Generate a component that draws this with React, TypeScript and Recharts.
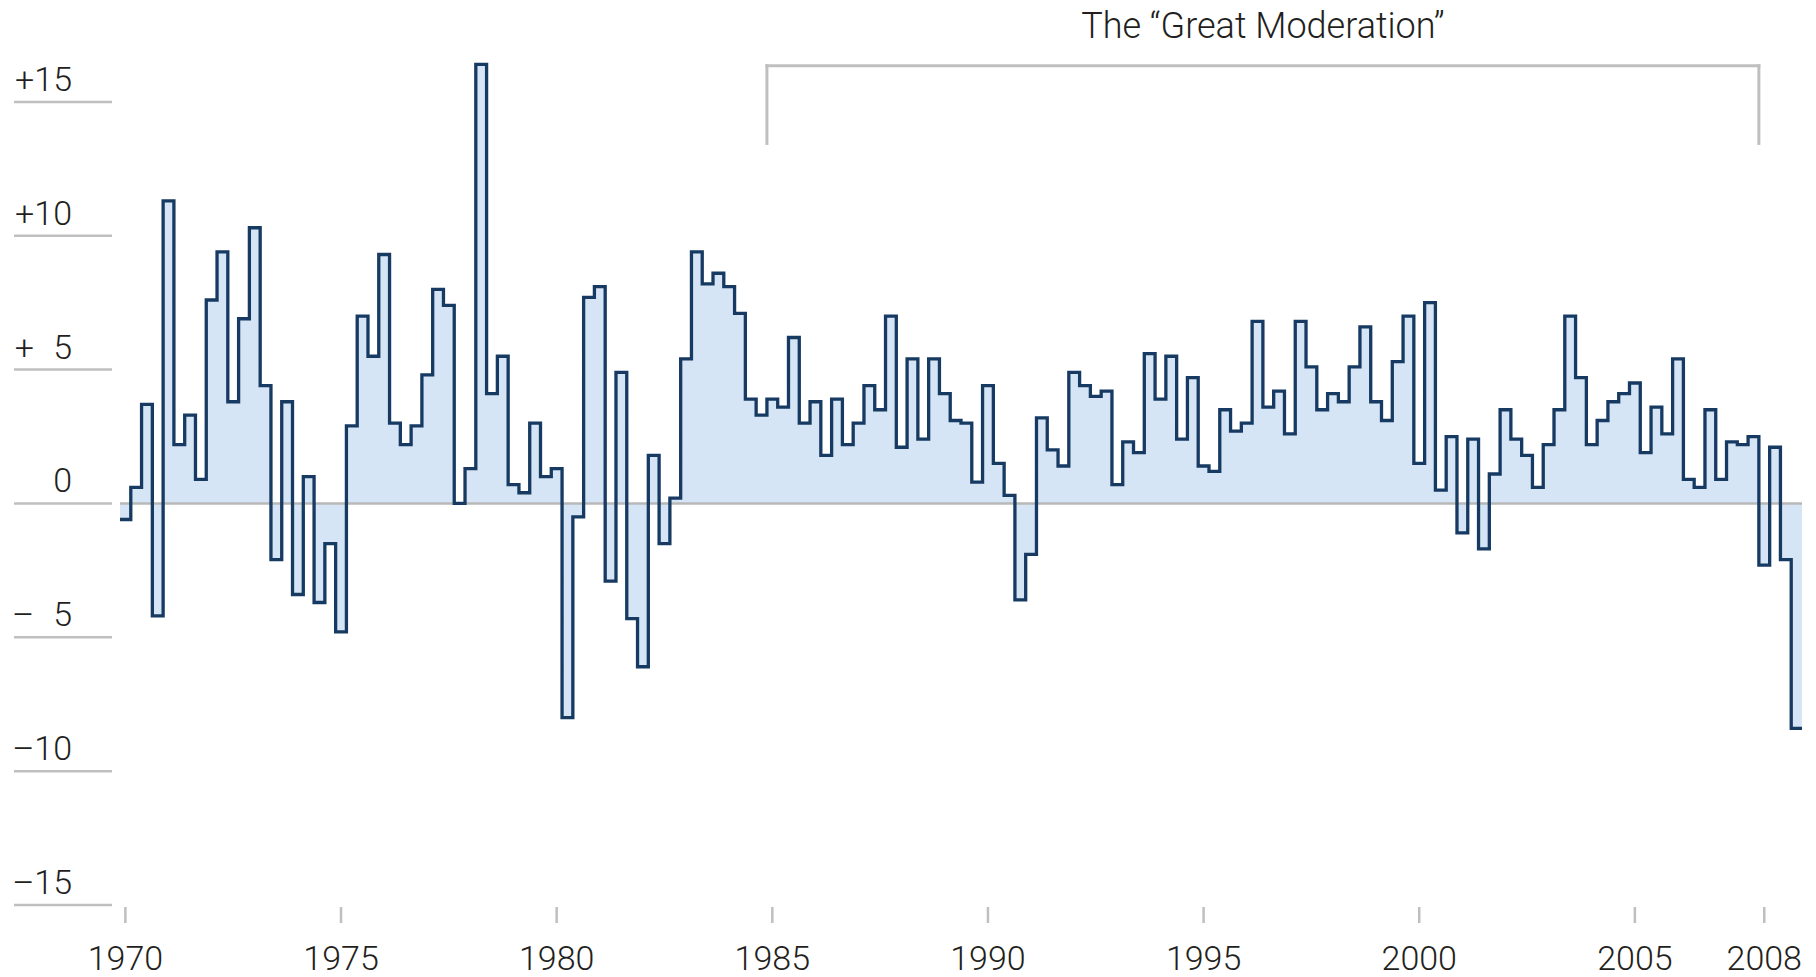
import { ComposedChart, Area, Line, XAxis, YAxis, ReferenceLine } from 'recharts';

// quarterly real GDP growth, annualised %, 1970Q1 .. 2008Q4
const firstYear = 1970;
const growth = [
  -0.6, 0.6, 3.7, -4.2,
  11.3, 2.2, 3.3, 0.9,
  7.6, 9.4, 3.8, 6.9,
  10.3, 4.4, -2.1, 3.8,
  -3.4, 1.0, -3.7, -1.5,
  -4.8, 2.9, 7.0, 5.5,
  9.3, 3.0, 2.2, 2.9,
  4.8, 8.0, 7.4, 0.0,
  1.3, 16.4, 4.1, 5.5,
  0.7, 0.4, 3.0, 1.0,
  1.3, -8.0, -0.5, 7.7,
  8.1, -2.9, 4.9, -4.3,
  -6.1, 1.8, -1.5, 0.2,
  5.4, 9.4, 8.2, 8.6,
  8.1, 7.1, 3.9, 3.3,
  3.9, 3.6, 6.2, 3.0,
  3.8, 1.8, 3.9, 2.2,
  3.0, 4.4, 3.5, 7.0,
  2.1, 5.4, 2.4, 5.4,
  4.1, 3.1, 3.0, 0.8,
  4.4, 1.5, 0.3, -3.6,
  -1.9, 3.2, 2.0, 1.4,
  4.9, 4.4, 4.0, 4.2,
  0.7, 2.3, 1.9, 5.6,
  3.9, 5.5, 2.4, 4.7,
  1.4, 1.2, 3.5, 2.7,
  3.0, 6.8, 3.6, 4.2,
  2.6, 6.8, 5.1, 3.5,
  4.1, 3.8, 5.1, 6.6,
  3.8, 3.1, 5.3, 7.0,
  1.5, 7.5, 0.5, 2.5,
  -1.1, 2.4, -1.7, 1.1,
  3.5, 2.4, 1.8, 0.6,
  2.2, 3.5, 7.0, 4.7,
  2.2, 3.1, 3.8, 4.1,
  4.5, 1.9, 3.6, 2.6,
  5.4, 0.9, 0.6, 3.5,
  0.9, 2.3, 2.2, 2.5,
  -2.3, 2.1, -2.1, -8.4,
];

const yTicks = [-15, -10, -5, 0, 5, 10, 15];
const yTickLabels = ['–15', '–10', '–\u20075', '0', '+\u20075', '+10', '+15'];
const tickYears = [1970, 1975, 1980, 1985, 1990, 1995, 2000, 2005, 2008];
const bracketYears = [1985, 2008];
const title = 'The “Great Moderation”';

const FONT = "Roboto, 'Open Sans', sans-serif";
const TEXT = '#231f20';
const GREY = '#bfbfbf';
const NAVY = '#173a63';
const FILL = '#d5e5f5';

// step data: one extra point so the last quarter gets its full width
const data = growth.map((v, i) => ({ q: i, v }));
data.push({ q: growth.length, v: growth[growth.length - 1] });

const xTicks = tickYears.map(y => (y - firstYear) * 4 + 0.5);
const qOf = (year: number) => (year - firstYear) * 4;
const bracketTop = 16.35;
const bracketBottom = 13.45;

function YTick(props: any) {
  const { y, payload } = props;
  const label = yTickLabels[yTicks.indexOf(payload.value)];
  return (
    <g>
      <line x1={14} x2={112} y1={y} y2={y} stroke={GREY} strokeWidth={2.5} />
      <text x={72} y={y - 11} textAnchor="end" fontSize={34} fontWeight={300} fontFamily={FONT} fill={TEXT}>
        {label}
      </text>
    </g>
  );
}

function XTick(props: any) {
  const { x, y, payload } = props;
  const year = tickYears[xTicks.indexOf(payload.value)];
  return (
    <g>
      <line x1={x} x2={x} y1={y + 2} y2={y + 18} stroke={GREY} strokeWidth={2.5} />
      <text x={x} y={y + 65} textAnchor="middle" fontSize={34} fontWeight={300} fontFamily={FONT} fill={TEXT}>
        {year}
      </text>
    </g>
  );
}

export default function App() {
  return (
    <div style={{ position: 'absolute', left: 0, top: 0, width: 1816, height: 977, background: '#fff', fontFamily: FONT }}>
      <ComposedChart width={1816} height={977} data={data} margin={{ top: 35, right: 14, bottom: 0, left: 0 }}>
        <XAxis
          type="number"
          dataKey="q"
          domain={[0, growth.length]}
          ticks={xTicks}
          interval={0}
          height={72}
          axisLine={false}
          tickLine={false}
          tickSize={0}
          tickMargin={0}
          allowDataOverflow
          tick={(p: any) => <XTick {...p} />}
        />
        <YAxis
          type="number"
          domain={[-15, 17.5]}
          ticks={yTicks}
          interval={0}
          width={120}
          axisLine={false}
          tickLine={false}
          tickSize={0}
          tickMargin={0}
          allowDataOverflow
          tick={(p: any) => <YTick {...p} />}
        />
        <Area
          type="stepAfter"
          dataKey="v"
          baseValue={0}
          stroke="none"
          fill={FILL}
          fillOpacity={1}
          isAnimationActive={false}
          activeDot={false}
        />
        <ReferenceLine y={0} stroke="#b8b8b8" strokeWidth={2.5} />
        <Line
          type="stepAfter"
          dataKey="v"
          stroke={NAVY}
          strokeWidth={3.3}
          dot={false}
          activeDot={false}
          isAnimationActive={false}
        />
        <ReferenceLine
          segment={[{ x: qOf(bracketYears[0]), y: bracketTop }, { x: qOf(bracketYears[1]), y: bracketTop }]}
          stroke={GREY}
          strokeWidth={3}
          strokeLinecap="square"
          label={{ value: title, position: 'top', offset: 28, fontSize: 36, fontWeight: 300, fontFamily: FONT, fill: TEXT }}
        />
        {bracketYears.map(yr => (
          <ReferenceLine
            key={yr}
            segment={[{ x: qOf(yr), y: bracketTop }, { x: qOf(yr), y: bracketBottom }]}
            stroke={GREY}
            strokeWidth={3}
            strokeLinecap="square"
          />
        ))}
      </ComposedChart>
    </div>
  );
}
